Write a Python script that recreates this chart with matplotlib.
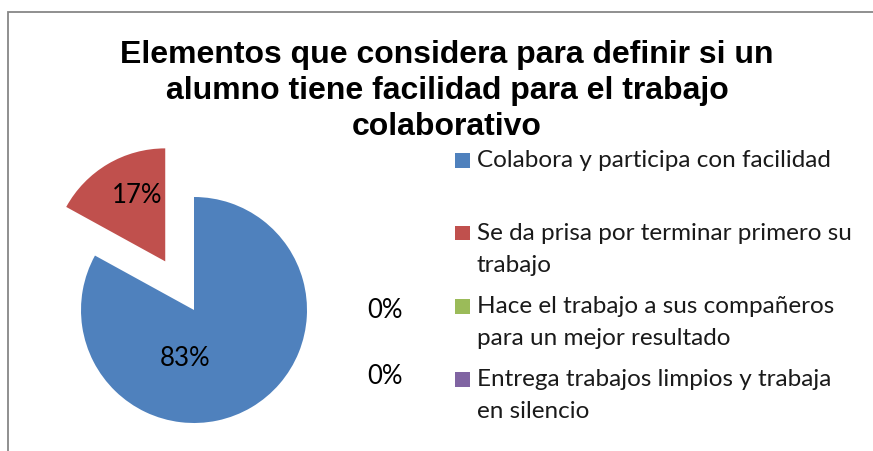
import matplotlib
matplotlib.use("Agg")
import matplotlib.pyplot as plt
from matplotlib.patches import Rectangle

# Datos del gráfico
categorias = [
    "Colabora y participa con facilidad",
    "Se da prisa por terminar primero su\ntrabajo",
    "Hace el trabajo a sus compañeros\npara un mejor resultado",
    "Entrega trabajos limpios y trabaja\nen silencio",
]
porcentajes = [83, 17, 0, 0]
colores = ["#4F81BD", "#C0504D", "#9BBB59", "#8064A2"]
titulo = "Elementos que considera para definir si un\nalumno tiene facilidad para el trabajo\ncolaborativo"

W, H = 873, 451
RADIO_PX = 113
CENTRO = (194, 310)  # px desde arriba-izquierda

TEXT_FONT = ["Lato", "DejaVu Sans"]
TITLE_FONT = ["Liberation Sans", "DejaVu Sans"]


def fx(x):
    return x / W


def fy(y):
    return 1 - y / H


fig = plt.figure(figsize=(W / 100, H / 100), dpi=100)
fig.patch.set_facecolor("white")

# marco del área del gráfico (se sale por la derecha y abajo)
fig.patches.append(Rectangle((fx(8), -0.1), 1.2, fy(12) + 0.1, transform=fig.transFigure,
                             fill=False, edgecolor="#878787", linewidth=1.3))

ax = fig.add_axes([0, 0, 1, 1])
ax.set_axis_off()

valores = [p if p > 0 else 1e-9 for p in porcentajes]
wedges, _ = ax.pie(
    valores,
    colors=colores,
    startangle=90,
    counterclock=False,
    explode=[0, 0.5, 0, 0],
    radius=1,
    wedgeprops=dict(linewidth=0),
)
cx, cy = CENTRO
ax.set_xlim(-cx / RADIO_PX, (W - cx) / RADIO_PX)
ax.set_ylim(-(H - cy) / RADIO_PX, cy / RADIO_PX)
ax.set_aspect("auto")

# etiquetas de porcentaje dentro de las porciones
ax.text(-0.08, -0.43, f"{porcentajes[0]}%", ha="center", va="center",
        fontsize=18.5, family=TEXT_FONT)
ax.text(-0.50, 1.01, f"{porcentajes[1]}%", ha="center", va="center",
        fontsize=18.5, family=TEXT_FONT)
# etiquetas de las porciones en cero
for i, yy in zip([2, 3], [311, 377]):
    fig.text(fx(385), fy(yy), f"{porcentajes[i]}%", ha="center", va="center",
             fontsize=18.5, family=TEXT_FONT)

fig.text(fx(447), fy(91), titulo, ha="center", va="center", fontsize=23,
         fontweight="bold", family=TITLE_FONT, linespacing=1.27)

# leyenda manual (filas equiespaciadas como en Excel)
y0, paso = 160, 73
for i, (cat, col) in enumerate(zip(categorias, colores)):
    yy = y0 + i * paso
    ax.add_patch(Rectangle((fx(455), fy(yy + 7.5)), 15 / W, 15 / H,
                           transform=fig.transFigure, facecolor=col, edgecolor="none"))
    fig.text(fx(477), fy(yy - 10), cat, ha="left", va="top", fontsize=17.5,
             family=TEXT_FONT, linespacing=1.62, color="#1a1a1a")

fig.savefig("out.png", dpi=100)
